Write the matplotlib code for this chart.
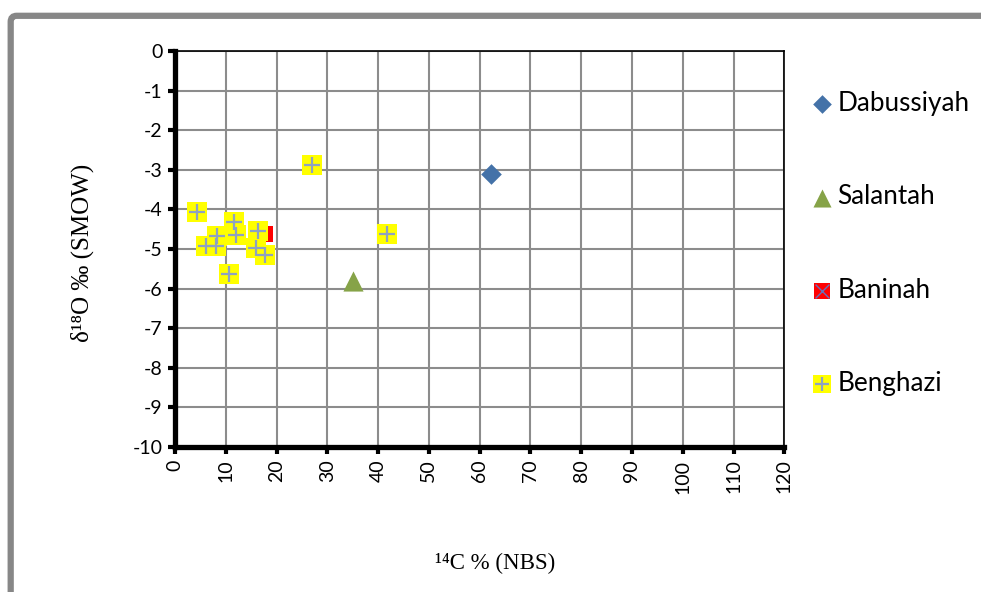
#!/usr/bin/env python3
import matplotlib
matplotlib.use("Agg")
import matplotlib.pyplot as plt
from matplotlib.patches import FancyBboxPatch
from matplotlib.transforms import IdentityTransform
from matplotlib.legend_handler import HandlerTuple

# ---------------- DATA ----------------
dab_x = [62.2]
dab_y = [-3.1]

sal_x = [35.1]
sal_y = [-5.82]

ban_x = [17.8]
ban_y = [-4.62]

ben_x = [4.4, 11.6, 16.4, 8.3, 12.1, 6.2, 8.0, 16.0, 17.7, 10.7, 26.9, 41.7]
ben_y = [-4.07, -4.33, -4.55, -4.67, -4.65, -4.92, -4.92, -4.98, -5.15, -5.64, -2.88, -4.63]

x_ticks = list(range(0, 121, 10))
y_ticks = list(range(-10, 1, 1))
# --------------------------------------

W, H, DPI = 981, 592, 100
SANS = ["Lato", "DejaVu Sans"]
SERIF = ["Liberation Serif", "DejaVu Serif"]

fig = plt.figure(figsize=(W / DPI, H / DPI), dpi=DPI)

# outer chart border (runs off the right and bottom edges)
frame = FancyBboxPatch((10.7, -100), 1200, H - 15.8 + 100,
                       boxstyle="round,pad=0,rounding_size=6",
                       transform=IdentityTransform(), fill=False,
                       ec="#878787", lw=4.5, clip_on=False)
fig.add_artist(frame)

ax = fig.add_axes([175 / W, (H - 447) / H, (784.3 - 175) / W, (447 - 51) / H])

ax.scatter(dab_x, dab_y, marker="D", s=10.5 ** 2, color="#4472A8", zorder=3,
           linewidths=0)
ax.scatter(sal_x, sal_y, marker="^", s=14.5 ** 2, color="#86A348", zorder=3,
           linewidths=0)
ax.scatter(ban_x, ban_y, marker="s", s=12 ** 2, color="#FF0000", zorder=3,
           linewidths=0)
ax.scatter(ben_x, ben_y, marker="s", s=13.8 ** 2, color="#FFFF00",
           zorder=4, linewidths=0)
ax.scatter(ben_x, ben_y, marker="+", s=11 ** 2, color="#8EA2C2",
           zorder=5, linewidths=1.6)

ax.set_xlim(0, 120)
ax.set_ylim(-10, 0)
ax.set_xticks(x_ticks)
ax.set_yticks(y_ticks)
ax.set_xticklabels([str(v) for v in x_ticks], rotation=90, family=SANS, fontsize=14)
ax.set_yticklabels([str(v) for v in y_ticks], family=SANS, fontsize=14)

ax.grid(True, color="#8C8C8C", lw=1.5)
ax.set_axisbelow(True)
for side in ["top", "right"]:
    ax.spines[side].set_linewidth(1.2)
for side in ["left", "bottom"]:
    ax.spines[side].set_linewidth(3.8)
ax.tick_params(axis="both", direction="out", length=5, width=3, pad=4)

fig.text(495 / W, 1 - 563 / H, "\u00b9\u2074C % (NBS)", family=SERIF,
         fontsize=16.5, ha="center", va="center")
fig.text(82 / W, 1 - 253 / H, "\u03b4\u00b9\u2078O \u2030 (SMOW)", family=SERIF,
         fontsize=18, ha="center", va="center", rotation=90)

# legend handles (Baninah and Benghazi are composite markers)
dab_h = ax.scatter([], [], marker="D", s=9.5 ** 2, color="#4472A8", linewidths=0)
sal_h = ax.scatter([], [], marker="^", s=13 ** 2, color="#86A348", linewidths=0)
ban_sq = ax.scatter([], [], marker="s", s=12 ** 2, color="#FF0000", linewidths=0)
ban_x_h = ax.scatter([], [], marker="x", s=10 ** 2, color="#6A6FB8", linewidths=1.0)
ben_sq = ax.scatter([], [], marker="s", s=12.5 ** 2, color="#FFFF00", linewidths=0)
ben_pl = ax.scatter([], [], marker="+", s=10 ** 2, color="#8EA2C2", linewidths=1.6)

fig.legend([dab_h, sal_h, (ban_sq, ban_x_h), (ben_sq, ben_pl)],
           ["Dabussiyah", "Salantah", "Baninah", "Benghazi"],
           handler_map={tuple: HandlerTuple(ndivide=1, pad=0)},
           loc="upper left", bbox_to_anchor=(812 / W, 1 - 91 / H),
           frameon=False, prop={"family": SANS, "size": 18.8},
           handlelength=0.8, handletextpad=0.17, labelspacing=2.62,
           borderaxespad=0, borderpad=0, scatterpoints=1)

fig.savefig("out.png", dpi=DPI)
